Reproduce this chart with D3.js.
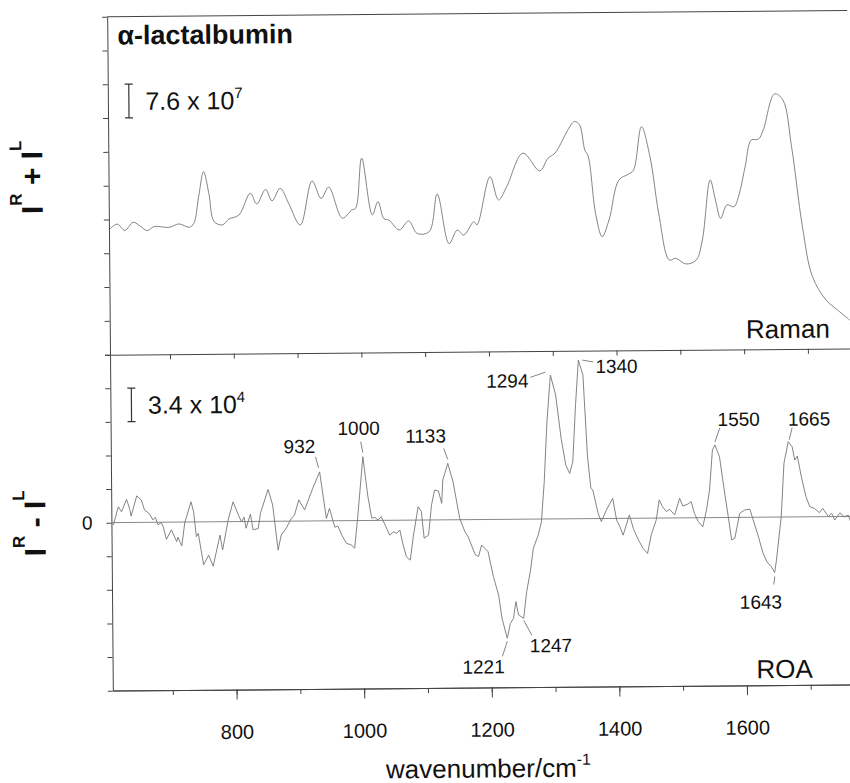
<!DOCTYPE html>
<html lang="en">
<head>
<meta charset="UTF-8">
<title>alpha-lactalbumin Raman and ROA</title>
<script src="https://d3js.org/d3.v7.min.js"></script>
<style>
	body { margin: 0; background: #ffffff; }
	svg { display: block; font-family: "Liberation Sans", Arial, sans-serif; }
</style>
</head>
<body>
<script type="text/javascript">

	// Wavenumber ticks (cm^-1)
	var xTicksMajor = [800, 1000, 1200, 1400, 1600];
	var xTicksAll = [700, 800, 900, 1000, 1100, 1200, 1300, 1400, 1500, 1600, 1700];

	// Raman spectrum I^R + I^L (in units of one tick interval)
	var ramanWavenumber = [606, 619, 631, 644, 656, 666, 677, 700, 716, 732, 739, 747, 755, 763, 771, 784, 794, 810,
		828, 838, 852, 862, 875, 888, 906, 925, 939, 951, 972, 987, 993, 1003, 1019, 1028, 1037, 1045, 1061, 1076,
		1089, 1108, 1121, 1139, 1152, 1162, 1178, 1183, 1204, 1217, 1230, 1256, 1282, 1295, 1306, 1337, 1345, 1353,
		1358, 1369, 1379, 1390, 1406, 1421, 1429, 1442, 1455, 1468, 1484, 1494, 1510, 1526, 1536, 1549, 1557, 1565,
		1575, 1586, 1594, 1604, 1614, 1625, 1633, 1651, 1664, 1677, 1693, 1708, 1729, 1747, 1766];
	var ramanIntensity = [3.69, 3.86, 3.67, 3.91, 3.78, 3.66, 3.78, 3.75, 3.85, 3.75, 3.86, 4.65, 5.39, 4.75, 3.91, 3.81, 3.98, 4.10,
		4.74, 4.42, 4.85, 4.51, 4.88, 4.43, 3.79, 5.09, 4.57, 4.90, 3.98, 4.22, 4.27, 5.75, 4.07, 4.46, 3.96, 3.91, 3.62, 3.88,
		3.51, 3.56, 4.67, 3.20, 3.60, 3.45, 3.84, 3.75, 5.17, 4.48, 4.87, 5.86, 5.33, 5.70, 5.85, 6.78, 6.68, 5.93,
		5.76, 4.06, 3.37, 3.86, 5.04, 5.21, 5.33, 6.61, 5.72, 4.04, 2.66, 2.71, 2.54, 2.65, 3.25, 5.02, 4.43, 3.88,
		4.28, 4.22, 4.57, 5.40, 6.19, 6.21, 6.49, 7.55, 7.37, 5.99, 3.62, 2.14, 1.44, 1.14, 0.84];

	// ROA spectrum I^R - I^L (in units of one tick interval)
	var roaWavenumber = [609, 617, 622, 630, 635, 637, 646, 653, 658, 666, 671, 675, 679, 684, 687, 692, 700, 708, 710, 716,
		721, 731, 735, 739, 742, 750, 758, 765, 776, 780, 789, 797, 805, 810, 814, 817, 824, 828, 836, 840, 852, 859,
		867, 872, 880, 888, 893, 900, 909, 922, 933, 943, 948, 956, 961, 967, 974, 982, 987, 992, 1001, 1008, 1014,
		1019, 1024, 1029, 1035, 1042, 1048, 1053, 1058, 1063, 1068, 1074, 1079, 1087, 1092, 1096, 1103, 1108, 1113,
		1119, 1124, 1126, 1134, 1142, 1152, 1160, 1165, 1170, 1176, 1181, 1186, 1191, 1196, 1204, 1212, 1217, 1225,
		1230, 1235, 1239, 1243, 1251, 1256, 1262, 1267, 1275, 1280, 1285, 1290, 1296, 1304, 1312, 1319, 1325, 1330,
		1335, 1340, 1347, 1353, 1358, 1361, 1369, 1374, 1382, 1392, 1398, 1403, 1408, 1418, 1424, 1426, 1432, 1439,
		1446, 1452, 1460, 1465, 1470, 1476, 1481, 1489, 1497, 1502, 1510, 1515, 1520, 1526, 1533, 1539, 1544, 1549,
		1553, 1560, 1567, 1573, 1578, 1583, 1591, 1599, 1607, 1612, 1620, 1627, 1633, 1640, 1645, 1648, 1656, 1661,
		1668, 1674, 1678, 1682, 1688, 1695, 1701, 1708, 1716, 1721, 1730, 1735, 1740, 1748, 1755, 1761, 1765];
	var roaIntensity = [-0.07, 0.47, 0.32, 0.69, 0.39, 0.19, 0.79, 0.67, 0.37, 0.25, 0.07, 0.15, -0.08, -0.01, -0.13, -0.51, -0.23, -0.58, -0.45, -0.71,
		-0.02, 0.60, 0.30, -0.44, -0.34, -1.28, -0.99, -1.32, -0.40, -0.84, 0.05, 0.59, 0.20, -0.01, 0.13, -0.20, 0.22, -0.25, -0.21, 0.26, 0.95, 0.48,
		-0.86, -0.41, -0.21, 0.08, 0.18, 0.63, 0.33, 0.97, 1.46, 0.07, 0.37, -0.19, -0.16, -0.43, -0.67, -0.73, -0.82, 0.07, 1.90, 0.76, 0.07,
		0.09, 0.01, 0.11, -0.14, -0.44, -0.34, -0.39, -0.29, -0.74, -1.09, -1.19, -0.49, 0.40, 0.25, -0.54, -0.45, 0.45, 0.89,
		0.86, 0.49, 1.19, 1.68, 1.13, 0.04, -0.36, -0.51, -0.76, -1.05, -1.10, -0.76, -0.86, -0.96, -1.70, -2.25, -2.94, -3.54,
		-3.10, -2.95, -2.45, -2.85, -2.95, -2.16, -1.56, -0.87, -0.47, -0.08, 1.11, 2.90, 4.28, 3.69, 2.40, 1.60, 1.35, 1.70,
		3.38, 4.72, 4.28, 1.89, 0.90, 0.85, 0.16, -0.09, 0.25, 0.60, -0.05, -0.25, -0.50, 0.10, -0.30, -0.40, -0.65, -0.90,
		-1.05, -0.50, -0.06, 0.54, 0.34, 0.19, 0.26, 0.09, 0.58, 0.35, 0.41, 0.48, 0.13, -0.12, -0.27, 0.23, 0.82, 2.01,
		2.16, 1.81, 0.82, 0.02, -0.67, -0.62, 0.12, 0.22, 0.24, -0.08, -0.58, -1.07, -1.33, -1.48, -1.65, -1.28, 0.01, 1.60,
		2.24, 2.09, 1.69, 1.81, 1.20, 0.60, 0.30, 0.25, 0.12, 0.25, 0.00, 0.10, -0.10, 0.11, -0.01, 0.04, -0.16];

	// Annotated ROA bands
	var peakNames = ["932", "1000", "1133", "1294", "1340", "1221", "1247", "1550", "1665", "1643"];
	var peakWavenumber = [932, 1000, 1133, 1294, 1340, 1221, 1247, 1550, 1665, 1643];

	// Label placement relative to each band (pixels): text offset, anchor, leader line
	var peakLayout = [
		{ dx: -20, dy: -19, anchor: "middle", lead: [-1, -4, -4, -15] },
		{ dx: -4, dy: -22, anchor: "middle", lead: [0, -4, -2, -15] },
		{ dx: -22, dy: -21, anchor: "middle", lead: [0, -4, -4, -15] },
		{ dx: -22, dy: 12, anchor: "end", lead: [-5, -3, -20, 2] },
		{ dx: 17, dy: 13, anchor: "start", lead: [4, 0, 15, 2] },
		{ dx: -24, dy: 35, anchor: "middle", lead: [0, 3, -5, 18] },
		{ dx: 27, dy: 34, anchor: "middle", lead: [0, 2, 8, 17] },
		{ dx: 24, dy: -19, anchor: "middle", lead: [0, -3, 5, -17] },
		{ dx: 21, dy: -16, anchor: "middle", lead: [1, -2, 4, -14] },
		{ dx: -14, dy: 36, anchor: "middle", lead: [0, 4, -1, 12] }
	];

	// Figure size and frame
	var w = 850;
	var h = 783;
	var left = 110;
	var right = 850;
	var topY = 14;
	var midY = 352;
	var botY = 688;
	var tilt = -0.48;   // the printed figure sits slightly skewed

	var axisColor = "#444";
	var lineColor = "#777";
	var textColor = "#111";

	var svg = d3.select("body").append("svg")
		.attr("width", w)
		.attr("height", h);

	var g = svg.append("g")
		.attr("transform", "rotate(" + tilt + ",425," + midY + ")");

	// Scales
	var xScale = d3.scaleLinear()
		.domain([606, 1766])
		.range([left, right]);

	var yTop = d3.scaleLinear()
		.domain([0, 10])
		.range([midY, topY]);

	var yBot = d3.scaleLinear()
		.domain([-5, 5])
		.range([botY, midY]);

	// Frame: top border
	g.append("line")
		.attr("x1", left).attr("x2", right)
		.attr("y1", topY).attr("y2", topY)
		.attr("stroke", axisColor)
		.attr("stroke-width", 1);

	// Left axes
	g.append("g")
		.attr("transform", "translate(" + left + ",0)")
		.attr("color", axisColor)
		.call(d3.axisLeft(yTop).tickValues(d3.range(0, 11)).tickSize(5).tickSizeOuter(0).tickFormat(""));

	var leftBot = g.append("g")
		.attr("transform", "translate(" + left + ",0)")
		.attr("color", axisColor)
		.call(d3.axisLeft(yBot).tickValues(d3.range(-5, 6)).tickSize(5).tickSizeOuter(0).tickPadding(14)
			.tickFormat(function(d) { return d === 0 ? "0" : ""; }));
	leftBot.selectAll("text")
		.attr("fill", textColor)
		.attr("font-size", 19)
		.attr("font-family", "Liberation Sans, Arial, sans-serif");

	// Shared wavenumber axis between the panels
	g.append("g")
		.attr("transform", "translate(0," + midY + ")")
		.attr("color", axisColor)
		.call(d3.axisBottom(xScale).tickValues(xTicksAll).tickSize(5).tickSizeOuter(0).tickFormat(""));

	// Bottom axis: minor ticks then labelled major ticks
	g.append("g")
		.attr("transform", "translate(0," + botY + ")")
		.attr("color", axisColor)
		.call(d3.axisBottom(xScale).tickValues(xTicksAll).tickSize(5).tickSizeOuter(0).tickFormat(""));

	var xAxis = g.append("g")
		.attr("transform", "translate(0," + botY + ")")
		.attr("color", axisColor)
		.call(d3.axisBottom(xScale).tickValues(xTicksMajor).tickSize(10).tickSizeOuter(0).tickPadding(25)
			.tickFormat(d3.format("d")));
	xAxis.selectAll("text")
		.attr("fill", textColor)
		.attr("font-size", 20)
		.attr("font-family", "Liberation Sans, Arial, sans-serif");

	// Zero line of the ROA panel
	g.append("line")
		.attr("x1", left).attr("x2", right)
		.attr("y1", yBot(0)).attr("y2", yBot(0))
		.attr("stroke", "#7a7a7a")
		.attr("stroke-width", 0.9);

	// Raman curve
	var ramanData = d3.zip(ramanWavenumber, ramanIntensity);
	var ramanLine = d3.line()
		.x(function(d) { return xScale(d[0]); })
		.y(function(d) { return yTop(d[1]); })
		.curve(d3.curveCatmullRom.alpha(0.5));

	g.append("path")
		.datum(ramanData)
		.attr("d", ramanLine)
		.attr("fill", "none")
		.attr("stroke", lineColor)
		.attr("stroke-width", 0.9);

	// ROA curve
	var roaData = d3.zip(roaWavenumber, roaIntensity);
	var roaLine = d3.line()
		.x(function(d) { return xScale(d[0]); })
		.y(function(d) { return yBot(d[1]); });

	g.append("path")
		.datum(roaData)
		.attr("d", roaLine)
		.attr("fill", "none")
		.attr("stroke", lineColor)
		.attr("stroke-width", 0.9);

	// Band labels: find the extreme point of the ROA trace next to each band
	function peakIndex(v) {
		var best = -1;
		roaWavenumber.forEach(function(wn, i) {
			if (Math.abs(wn - v) <= 8 && (best < 0 || Math.abs(roaIntensity[i]) > Math.abs(roaIntensity[best]))) {
				best = i;
			}
		});
		return best;
	}

	peakNames.forEach(function(name, i) {
		var k = peakIndex(peakWavenumber[i]);
		var px = xScale(roaWavenumber[k]);
		var py = yBot(roaIntensity[k]);
		var lay = peakLayout[i];

		g.append("line")
			.attr("x1", px + lay.lead[0]).attr("y1", py + lay.lead[1])
			.attr("x2", px + lay.lead[2]).attr("y2", py + lay.lead[3])
			.attr("stroke", "#777")
			.attr("stroke-width", 0.9);

		g.append("text")
			.attr("x", px + lay.dx)
			.attr("y", py + lay.dy)
			.attr("text-anchor", lay.anchor)
			.attr("font-size", 19)
			.attr("fill", textColor)
			.text(name);
	});

	// Intensity scale bars
	function scaleBar(scale, lo, hi, label, power) {
		var bx = left + 21;
		g.append("path")
			.attr("d", "M" + (bx - 4) + "," + scale(hi) + "H" + (bx + 4) +
				"M" + bx + "," + scale(hi) + "V" + scale(lo) +
				"M" + (bx - 4) + "," + scale(lo) + "H" + (bx + 4))
			.attr("fill", "none")
			.attr("stroke", "#333")
			.attr("stroke-width", 1.2);

		var t = g.append("text")
			.attr("x", left + 37.5)
			.attr("y", scale((lo + hi) / 2) + 9)
			.attr("font-size", 25)
			.attr("fill", textColor);
		t.append("tspan").text(label);
		t.append("tspan").attr("dy", -11).attr("font-size", 15).text(power);
	}
	scaleBar(yTop, 7, 8, "7.6 x 10", "7");
	scaleBar(yBot, 3, 4, "3.4 x 10", "4");

	// Panel texts
	g.append("text")
		.attr("x", left + 10)
		.attr("y", topY + 28)
		.attr("font-size", 27)
		.attr("font-weight", "bold")
		.attr("fill", textColor)
		.text("\u03b1-lactalbumin");

	g.append("text")
		.attr("x", 830)
		.attr("y", midY - 11)
		.attr("text-anchor", "end")
		.attr("font-size", 26)
		.attr("fill", textColor)
		.text("Raman");

	g.append("text")
		.attr("x", 810)
		.attr("y", botY - 7)
		.attr("text-anchor", "end")
		.attr("font-size", 26)
		.attr("fill", textColor)
		.text("ROA");

	// Axis titles
	function yTitle(cy, sign) {
		var t = g.append("text")
			.attr("transform", "translate(44," + cy + ") rotate(-90)")
			.attr("text-anchor", "middle")
			.attr("font-size", 30)
			.attr("font-weight", "bold")
			.attr("fill", textColor)
			.style("white-space", "pre");
		t.append("tspan").text("I");
		t.append("tspan").attr("dy", -21).attr("font-size", 17).text("R");
		t.append("tspan").attr("dy", 21).text(" " + sign + " I");
		t.append("tspan").attr("dy", -21).attr("font-size", 17).text("L");
	}
	yTitle(174, "+");
	yTitle(520, "-");

	var xt = g.append("text")
		.attr("x", 485)
		.attr("y", 778)
		.attr("text-anchor", "middle")
		.attr("font-size", 26)
		.attr("fill", textColor);
	xt.append("tspan").text("wavenumber/cm");
	xt.append("tspan").attr("dy", -12).attr("font-size", 16).text("-1");

</script>
</body>
</html>
